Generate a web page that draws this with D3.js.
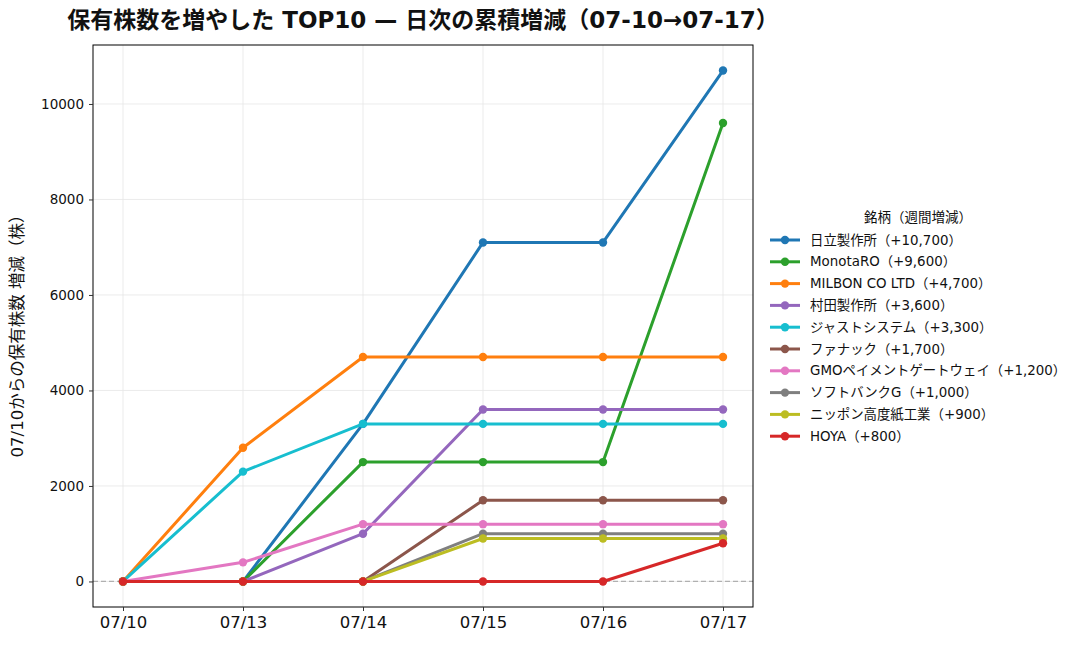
<!DOCTYPE html>
<html><head><meta charset="utf-8">
<script src="https://cdn.jsdelivr.net/npm/d3@7"></script>
<style>
body{margin:0;background:#fff;}
text{font-family:"DejaVu Sans","Noto Sans CJK JP",sans-serif;}
</style></head><body>
<svg id="c" width="1087" height="648"></svg>
<script>
const dates = ["07/10","07/13","07/14","07/15","07/16","07/17"];
const names = ["日立製作所","MonotaRO","MILBON CO LTD","村田製作所","ジャストシステム","ファナック","GMOペイメントゲートウェイ","ソフトバンクG","ニッポン高度紙工業","HOYA"];
const hitachi = [0,0,3300,7100,7100,10700];
const monotaro = [0,0,2500,2500,2500,9600];
const milbon = [0,2800,4700,4700,4700,4700];
const murata = [0,0,1000,3600,3600,3600];
const justsystem = [0,2300,3300,3300,3300,3300];
const fanuc = [0,0,0,1700,1700,1700];
const gmo = [0,400,1200,1200,1200,1200];
const softbank = [0,0,0,1000,1000,1000];
const nippon = [0,0,0,900,900,900];
const hoya = [0,0,0,0,0,800];
const seriesValues = [hitachi,monotaro,milbon,murata,justsystem,fanuc,gmo,softbank,nippon,hoya];
const colors = ["#1f77b4","#2ca02c","#ff7f0e","#9467bd","#17becf","#8c564b","#e377c2","#7f7f7f","#bcbd22","#d62728"];
const yTicks = [0,2000,4000,6000,8000,10000];

const svg = d3.select("#c");
const L=93,R=753,T=45,B=607;
const x = d3.scaleLinear().domain([-0.25,5.25]).range([L,R]);
const yMax = 10700*1.05, yMin = -10700*0.05;
const y = d3.scaleLinear().domain([yMin,yMax]).range([B,T]);

// grid
const g = svg.append("g");
g.selectAll(".gx").data(dates).enter().append("line")
  .attr("x1",(d,i)=>x(i)).attr("x2",(d,i)=>x(i)).attr("y1",T).attr("y2",B)
  .attr("stroke","#e6e6e6").attr("stroke-width",0.8);
g.selectAll(".gy").data(yTicks).enter().append("line")
  .attr("x1",L).attr("x2",R).attr("y1",d=>y(d)).attr("y2",d=>y(d))
  .attr("stroke","#e6e6e6").attr("stroke-width",0.8);
// zero dashed
svg.append("line").attr("x1",L).attr("x2",R).attr("y1",y(0)).attr("y2",y(0))
  .attr("stroke","#b0b0b0").attr("stroke-width",1.2).attr("stroke-dasharray","5,3");

// series
const line = d3.line().x((d,i)=>x(i)).y(d=>y(d));
seriesValues.forEach((vals,k)=>{
  const sg = svg.append("g");
  sg.append("path").datum(vals).attr("d",line).attr("fill","none")
    .attr("stroke",colors[k]).attr("stroke-width",3).attr("stroke-linejoin","round");
  sg.selectAll("circle").data(vals).enter().append("circle")
    .attr("cx",(d,i)=>x(i)).attr("cy",d=>y(d)).attr("r",4.2).attr("fill",colors[k]);
});

// frame
svg.append("rect").attr("x",L).attr("y",T).attr("width",R-L).attr("height",B-T)
  .attr("fill","none").attr("stroke","#000").attr("stroke-width",1);

// axes
const xa = svg.append("g").attr("transform",`translate(0,${B})`)
  .call(d3.axisBottom(x).tickValues([0,1,2,3,4,5]).tickFormat(i=>dates[i]).tickSize(4).tickPadding(5));
const ya = svg.append("g").attr("transform",`translate(${L},0)`)
  .call(d3.axisLeft(y).tickValues(yTicks).tickFormat(d=>d).tickSize(4).tickPadding(5));
[xa,ya].forEach(a=>{a.select(".domain").remove();
  a.selectAll("line").attr("stroke","#333");});
xa.selectAll("text").attr("font-size",16.5).attr("fill","#111").style("font-family","'DejaVu Sans',sans-serif");
ya.selectAll("text").attr("font-size",13.5).attr("fill","#111").style("font-family","'DejaVu Sans',sans-serif");

// title
svg.append("text").attr("x",(L+R)/2).attr("y",28).attr("text-anchor","middle")
  .attr("font-size",23).attr("font-weight","bold").attr("fill","#111")
  .text("保有株数を増やした TOP10 — 日次の累積増減（07-10→07-17）");
// y label
svg.append("text").attr("transform",`translate(23,${(T+B)/2 + 6}) rotate(-90)`).attr("text-anchor","middle")
  .attr("font-size",16.5).attr("fill","#111").text("07/10からの保有株数 増減（株）");

// legend
const lg = svg.append("g");
lg.append("text").attr("x",918).attr("y",222).attr("text-anchor","middle").attr("font-size",13.5).attr("fill","#111").text("銘柄（週間増減）");
const totals = seriesValues.map(v=>v[v.length-1]);
names.forEach((n,k)=>{
  const yy = 240 + k*21.8;
  lg.append("line").attr("x1",770).attr("x2",800).attr("y1",yy).attr("y2",yy).attr("stroke",colors[k]).attr("stroke-width",3);
  lg.append("circle").attr("cx",785).attr("cy",yy).attr("r",4.2).attr("fill",colors[k]);
  lg.append("text").attr("x",810).attr("y",yy+4.5).attr("font-size",13.4).attr("fill","#111")
    .text(`${n}（+${d3.format(",")(totals[k])}）`);
});
</script></body></html>
